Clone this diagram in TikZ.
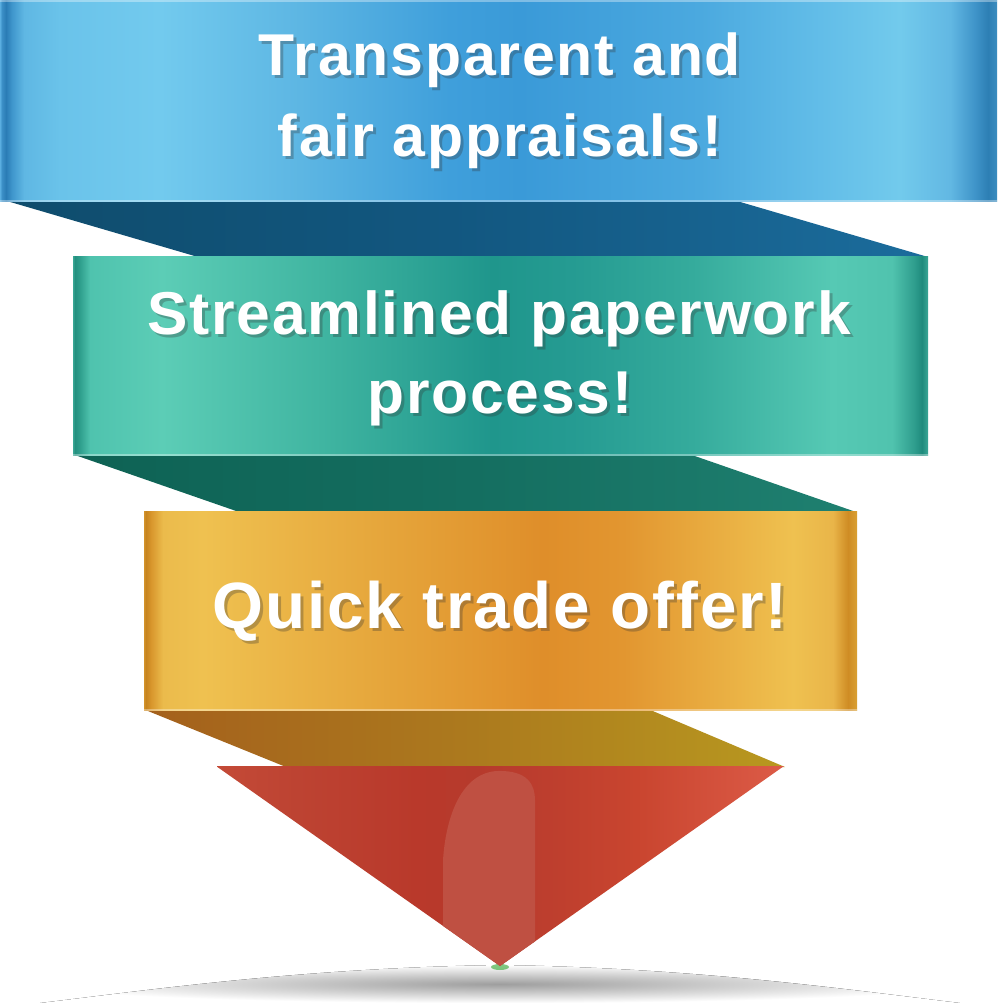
\documentclass[tikz,border=0pt]{standalone}
\usepackage{fontspec}
\newfontfamily\bandfont[LetterSpace=3]{Liberation Sans}
% blue band
\definecolor{bl0}{HTML}{5AAEE0}\definecolor{bl1}{HTML}{3B8FC6}\definecolor{bl2}{HTML}{2A7CB5}
\definecolor{bl3}{HTML}{3F96CC}\definecolor{bl4}{HTML}{5FB7E3}\definecolor{bl5}{HTML}{6AC3EA}
\definecolor{bl6}{HTML}{72CAEE}\definecolor{bl7}{HTML}{5DB6E3}\definecolor{bl8}{HTML}{3F9FDB}
\definecolor{bl9}{HTML}{3A9AD8}\definecolor{bl10}{HTML}{4BA9DF}\definecolor{bl11}{HTML}{62BDE8}
\definecolor{bl12}{HTML}{72CAEC}\definecolor{bl13}{HTML}{62B8E3}\definecolor{bl14}{HTML}{3F94C9}
\definecolor{bl15}{HTML}{2D7FB4}\definecolor{bl16}{HTML}{3A8CBF}
% teal band
\definecolor{te0}{HTML}{45B3A0}\definecolor{te1}{HTML}{24907F}\definecolor{te2}{HTML}{2F9F8D}
\definecolor{te3}{HTML}{4FC3AE}\definecolor{te4}{HTML}{5CCDB6}\definecolor{te5}{HTML}{40B5A1}
\definecolor{te6}{HTML}{1F968C}\definecolor{te7}{HTML}{259B92}\definecolor{te8}{HTML}{35AB9C}
\definecolor{te9}{HTML}{56C9B4}\definecolor{te10}{HTML}{50C3AE}\definecolor{te11}{HTML}{2F9E8E}
\definecolor{te12}{HTML}{1F8B7D}\definecolor{te13}{HTML}{3AA796}
% orange band
\definecolor{or0}{HTML}{D99A30}\definecolor{or1}{HTML}{C6841F}\definecolor{or2}{HTML}{D8962C}
\definecolor{or3}{HTML}{EBBB4C}\definecolor{or4}{HTML}{EFC150}\definecolor{or5}{HTML}{E5A43A}
\definecolor{or6}{HTML}{DF8E2A}\definecolor{or7}{HTML}{E29630}\definecolor{or8}{HTML}{EBB446}
\definecolor{or9}{HTML}{EFC150}\definecolor{or10}{HTML}{E9B549}\definecolor{or11}{HTML}{CF8C24}
\definecolor{or12}{HTML}{D9A033}
% folds
\definecolor{bf0}{HTML}{0F4C6C}\definecolor{bf1}{HTML}{125780}\definecolor{bf2}{HTML}{1B6C9C}
\definecolor{tf0}{HTML}{0E6254}\definecolor{tf1}{HTML}{146E60}\definecolor{tf2}{HTML}{1F8070}
\definecolor{of0}{HTML}{A4601C}\definecolor{of1}{HTML}{AC7A1E}\definecolor{of2}{HTML}{B8981F}
% red
\definecolor{rd0}{HTML}{C44A37}\definecolor{rd1}{HTML}{BD4332}\definecolor{rd2}{HTML}{B9392B}
\definecolor{rd3}{HTML}{B63A2C}\definecolor{rd4}{HTML}{BD3E2E}\definecolor{rd5}{HTML}{C9452F}
\definecolor{rd6}{HTML}{DC5B47}\definecolor{rdhi}{HTML}{BF5042}

\pgfdeclarehorizontalshading{blueband}{200pt}{color(0pt)=(bl0); color(2pt)=(bl1); color(6pt)=(bl2);
 color(12pt)=(bl3); color(24pt)=(bl4); color(60pt)=(bl5); color(160pt)=(bl6); color(300pt)=(bl7);
 color(450pt)=(bl8); color(520pt)=(bl9); color(700pt)=(bl10); color(820pt)=(bl11); color(900pt)=(bl12);
 color(950pt)=(bl13); color(975pt)=(bl14); color(988pt)=(bl15); color(997pt)=(bl16)}
\pgfdeclarehorizontalshading{tealband}{199pt}{color(0pt)=(te0); color(3pt)=(te1); color(8pt)=(te2);
 color(18pt)=(te3); color(90pt)=(te4); color(250pt)=(te5); color(420pt)=(te6); color(500pt)=(te7);
 color(620pt)=(te8); color(760pt)=(te9); color(820pt)=(te10); color(842pt)=(te11); color(850pt)=(te12);
 color(856pt)=(te13)}
\pgfdeclarehorizontalshading{orangeband}{199pt}{color(0pt)=(or0); color(3pt)=(or1); color(8pt)=(or2);
 color(20pt)=(or3); color(60pt)=(or4); color(250pt)=(or5); color(400pt)=(or6); color(480pt)=(or7);
 color(600pt)=(or8); color(650pt)=(or9); color(690pt)=(or10); color(705pt)=(or11); color(714pt)=(or12)}
\pgfdeclarehorizontalshading{bluefold}{58pt}{color(0pt)=(bf0); color(450pt)=(bf1); color(928pt)=(bf2)}
\pgfdeclarehorizontalshading{tealfold}{58pt}{color(0pt)=(tf0); color(400pt)=(tf1); color(784pt)=(tf2)}
\pgfdeclarehorizontalshading{orangefold}{58pt}{color(0pt)=(of0); color(330pt)=(of1); color(642pt)=(of2)}
\pgfdeclarehorizontalshading{redtri}{202pt}{color(0pt)=(rd0); color(80pt)=(rd1); color(200pt)=(rd2);
 color(260pt)=(rd3); color(330pt)=(rd4); color(420pt)=(rd5); color(568pt)=(rd6)}

\tikzset{
  shadebox/.style={inner sep=0pt, outer sep=0pt, anchor=north west},
  bandtext/.style={text=white, anchor=base, inner sep=0pt},
  shadowtext/.style={text=black!80, opacity=0.3, anchor=base, inner sep=0pt},
  edgeline/.style={white, opacity=0.35, line width=1.2pt}
}
\newcommand\bandlabel[4]{% name, x, y, text
  \node[shadowtext] (#1s) at (#2+3,#3+3) {#4};
  \node[bandtext] (#1) at (#2,#3) {#4};
}

\begin{document}
\begin{tikzpicture}[x=1pt,y=-1pt]
\useasboundingbox (0,0) rectangle (1000,1003);
\fill[white] (0,0) rectangle (1000,1003);

% floor shadow
\fill[inner color=black!38, outer color=white]
  (500,965) .. controls (300,968) and (150,990) .. (40,1003) -- (960,1003)
  .. controls (850,990) and (700,968) .. (500,965) -- cycle;
\fill[green!40!gray, opacity=0.7] (500,967) ellipse (9 and 3);

% folds
\begin{scope}
  \clip (0,199) -- (730,199) -- (928,257) -- (198,257) -- cycle;
  \node[shadebox] (fold1) at (0,199) {\pgfuseshading{bluefold}};
\end{scope}
\begin{scope}
  \clip (72,454) -- (689,454) -- (856,512) -- (239,512) -- cycle;
  \node[shadebox] (fold2) at (72,454) {\pgfuseshading{tealfold}};
\end{scope}
\begin{scope}
  \clip (143,709) -- (648,709) -- (785,767) -- (286,767) -- cycle;
  \node[shadebox] (fold3) at (143,709) {\pgfuseshading{orangefold}};
\end{scope}

% bands
\node[shadebox] (band1) at (0,1) {\pgfuseshading{blueband}};
\node[shadebox] (band2) at (72,256) {\pgfuseshading{tealband}};
\node[shadebox] (band3) at (143,511) {\pgfuseshading{orangeband}};
\draw[edgeline] (band1.north west) -- (band1.north east);
\draw[edgeline] (band1.south west) -- (band1.south east);
\draw[edgeline] (band2.south west) -- (band2.south east);
\draw[edgeline] (band3.south west) -- (band3.south east);

% red triangle
\begin{scope}
  \clip (216,766) -- (784,766) -- (500,966) -- cycle;
  \node[shadebox] (tri) at (216,765) {\pgfuseshading{redtri}};
  \fill[rdhi] (443,990) -- (443,860) .. controls (446,815) and (462,773) .. (497,771)
     .. controls (528,770) and (535,785) .. (535,800) -- (535,990) -- cycle;
\end{scope}

% texts
\begin{scope}[font=\bandfont\bfseries\fontsize{59}{62}\selectfont]
  \bandlabel{ta}{500}{76}{Transparent and}
  \bandlabel{tb}{500}{157}{fair appraisals!}
\end{scope}
\begin{scope}[font=\bandfont\bfseries\fontsize{60.5}{64}\selectfont]
  \bandlabel{tc}{499}{334}{Streamlined paperwork}
  \bandlabel{td}{500}{413}{process!}
\end{scope}
\begin{scope}[font=\bandfont\bfseries\fontsize{65.5}{68}\selectfont]
  \bandlabel{te}{500}{628}{Quick trade offer!}
\end{scope}
\end{tikzpicture}
\end{document}
